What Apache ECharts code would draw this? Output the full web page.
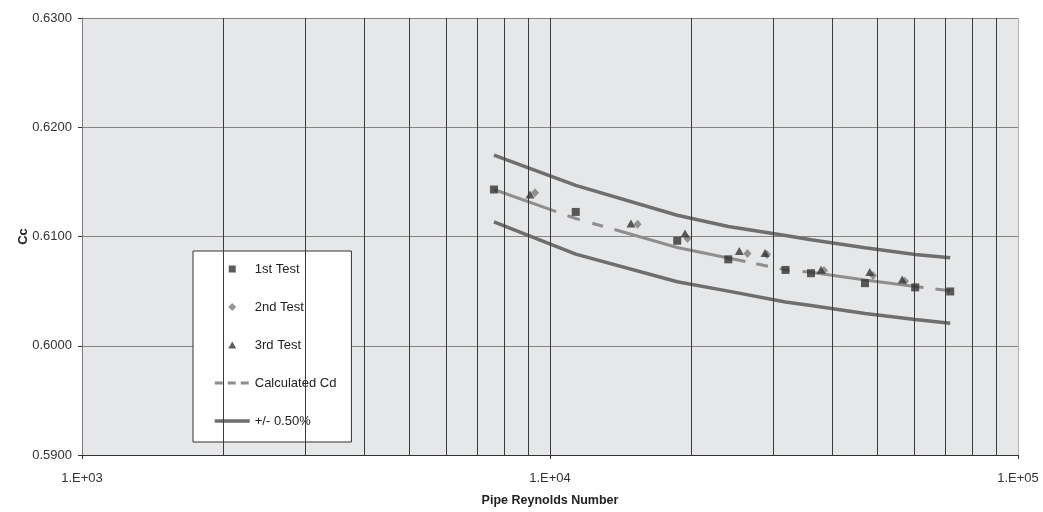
<!DOCTYPE html>
<html>
<head>
<meta charset="utf-8">
<script src="https://cdn.jsdelivr.net/npm/echarts@6/dist/echarts.min.js"></script>
<style>
html,body{margin:0;padding:0;background:#fff;}
#c{width:1043px;height:512px;}
</style>
</head>
<body>
<div id="c"></div>
<script>
// ---- data ----
const xTest1 = [7590, 11350, 18700, 24040, 31860, 36120, 47110, 60300, 71640];
const cc1    = [0.61430, 0.61225, 0.60961, 0.60791, 0.60694, 0.60664, 0.60573, 0.60534, 0.60497];
const xTest2 = [9290, 15390, 19670, 26420, 29090, 38500, 49000, 57340];
const cc2    = [0.61400, 0.61112, 0.60982, 0.60845, 0.60836, 0.60688, 0.60643, 0.60591];
const xTest3 = [9064, 14895, 19430, 25380, 28800, 37940, 48240, 56580];
const cc3    = [0.61385, 0.61118, 0.61027, 0.60868, 0.60850, 0.60695, 0.60675, 0.60607];
const xCalc  = [7590, 11350, 18700, 24040, 31860, 36120, 47110, 60300, 71640];
const cdCalc = [0.61430, 0.61165, 0.60899, 0.60803, 0.60695, 0.60673, 0.60601, 0.60543, 0.60503];
const cdUpper= [0.61745, 0.61468, 0.61195, 0.61091, 0.61009, 0.60970, 0.60897, 0.60836, 0.60806];
const cdLower= [0.61134, 0.60839, 0.60586, 0.60500, 0.60400, 0.60368, 0.60295, 0.60241, 0.60205];
const minorGridX = [2000,3000,4000,5000,6000,7000,8000,9000,10000,20000,30000,40000,50000,60000,70000,80000,90000];

const zip = (xs, ys) => xs.map((x, i) => [x, ys[i]]);
const FONT = '"Liberation Sans", Arial, sans-serif';
// legend icon shapes (35x8 box, symbol centred)
const EDGE = ' M0,0L0.01,0 M35,8L34.99,8';
const ICON_SQ  = 'path://M14,0.5L21,0.5L21,7.5L14,7.5Z' + EDGE;
const ICON_DI  = 'path://M17.5,0L21.5,4L17.5,8L13.5,4Z' + EDGE;
const ICON_TRI = 'path://M17.5,0.5L21.5,7.5L13.5,7.5Z' + EDGE;
const HIDE = {color: 'rgba(0,0,0,0)', borderWidth: 0, opacity: 0};

const chart = echarts.init(document.getElementById('c'), null, {renderer: 'canvas'});
chart.setOption({
  animation: false,
  backgroundColor: '#ffffff',
  textStyle: {fontFamily: FONT},
  grid: {left: 82, right: 25, top: 18, bottom: 54, show: true, backgroundColor: '#e6e7e9', borderWidth: 0},
  legend: {
    orient: 'vertical', left: 193, top: 251,
    backgroundColor: '#ffffff', borderColor: '#333333', borderWidth: 1, borderRadius: 0,
    padding: [11.5, 15, 14.5, 20],
    itemWidth: 35, itemHeight: 8, itemGap: 25,
    symbolKeepAspect: false,
    textStyle: {fontSize: 13, color: '#222', fontFamily: FONT},
    data: [
      {name: '1st Test', icon: ICON_SQ, itemStyle: {color: '#333333', borderWidth: 0}},
      {name: '2nd Test', icon: ICON_DI, itemStyle: {color: '#7a7a7a', borderWidth: 0}},
      {name: '3rd Test', icon: ICON_TRI, itemStyle: {color: '#353535', borderWidth: 0}},
      {name: 'Calculated Cd', itemStyle: HIDE, lineStyle: {type: [8, 5], width: 3, color: '#8e8e8e'}},
      {name: '+/- 0.50%', itemStyle: HIDE, lineStyle: {type: 'solid', width: 3.5, color: '#6e6e6e'}}
    ]
  },
  xAxis: {
    type: 'log', logBase: 10, min: 1000, max: 100000,
    name: 'Pipe Reynolds Number', nameLocation: 'middle', nameGap: 39, nameMoveOverlap: false,
    nameTextStyle: {fontSize: 12.5, fontWeight: 'bold', color: '#222', fontFamily: FONT},
    axisLine: {show: true, lineStyle: {color: '#333', width: 1}},
    axisTick: {show: true, length: 4, lineStyle: {color: '#333'}},
    axisLabel: {fontSize: 13, color: '#333', margin: 17, fontFamily: FONT,
      formatter: v => '1.E+' + String(Math.round(Math.log10(v))).padStart(2, '0')},
    splitLine: {show: false},
    minorTick: {show: false}
  },
  yAxis: [{
    type: 'value', min: 0.59, max: 0.63, interval: 0.01,
    name: 'Cc', nameLocation: 'middle', nameGap: 52, nameRotate: 90, nameMoveOverlap: false,
    nameTextStyle: {fontSize: 13, fontWeight: 'bold', color: '#222', fontFamily: FONT},
    axisLine: {show: true, lineStyle: {color: '#7a7a7a', width: 1}},
    axisTick: {show: true, length: 4, lineStyle: {color: '#333'}},
    axisLabel: {fontSize: 13, color: '#333', margin: 10, fontFamily: FONT, formatter: v => v.toFixed(4)},
    splitLine: {show: true, lineStyle: {color: '#858585', width: 1}}
  }, {
    type: 'value', min: 0.59, max: 0.63, position: 'right',
    axisLine: {show: true, lineStyle: {color: '#b5b5b5', width: 1}},
    axisTick: {show: false}, axisLabel: {show: false}, splitLine: {show: false}
  }],
  series: [
    {
      name: 'grid-minor', type: 'line', data: [], silent: true, z: 1,
      markLine: {
        silent: true, symbol: 'none', animation: false,
        label: {show: false},
        lineStyle: {type: 'solid', color: '#3c3c3c', width: 1},
        emphasis: {disabled: true},
        data: minorGridX.map(v => ({xAxis: v}))
      }
    },
    {
      name: '+/- 0.50%', type: 'line', data: zip(xCalc, cdUpper), symbol: 'none', z: 3,
      lineStyle: {color: '#6e6e6e', width: 3.5}, itemStyle: {color: '#6e6e6e'}
    },
    {
      name: '+/- 0.50%', type: 'line', data: zip(xCalc, cdLower), symbol: 'none', z: 3,
      lineStyle: {color: '#6e6e6e', width: 3.5}, itemStyle: {color: '#6e6e6e'}
    },
    {
      name: 'Calculated Cd', type: 'line', data: zip(xCalc, cdCalc), symbol: 'none', z: 3,
      lineStyle: {color: '#8e8e8e', width: 3, type: [66, 12, 13, 13, 11, 12, 135, 11, 12, 12, 10, 13, 122, 12, 40]},
      itemStyle: {color: '#8e8e8e'}
    },
    {
      name: '2nd Test', type: 'scatter', data: zip(xTest2, cc2), symbol: 'diamond', symbolSize: [8, 9], z: 4,
      itemStyle: {color: '#7a7a7a'}
    },
    {
      name: '3rd Test', type: 'scatter', data: zip(xTest3, cc3), symbol: 'triangle', symbolSize: [9, 8], z: 5,
      itemStyle: {color: '#353535'}
    },
    {
      name: '1st Test', type: 'scatter', data: zip(xTest1, cc1), symbol: 'rect', symbolSize: 8, z: 6,
      itemStyle: {color: '#333333'}
    }
  ]
});
</script>
</body>
</html>
